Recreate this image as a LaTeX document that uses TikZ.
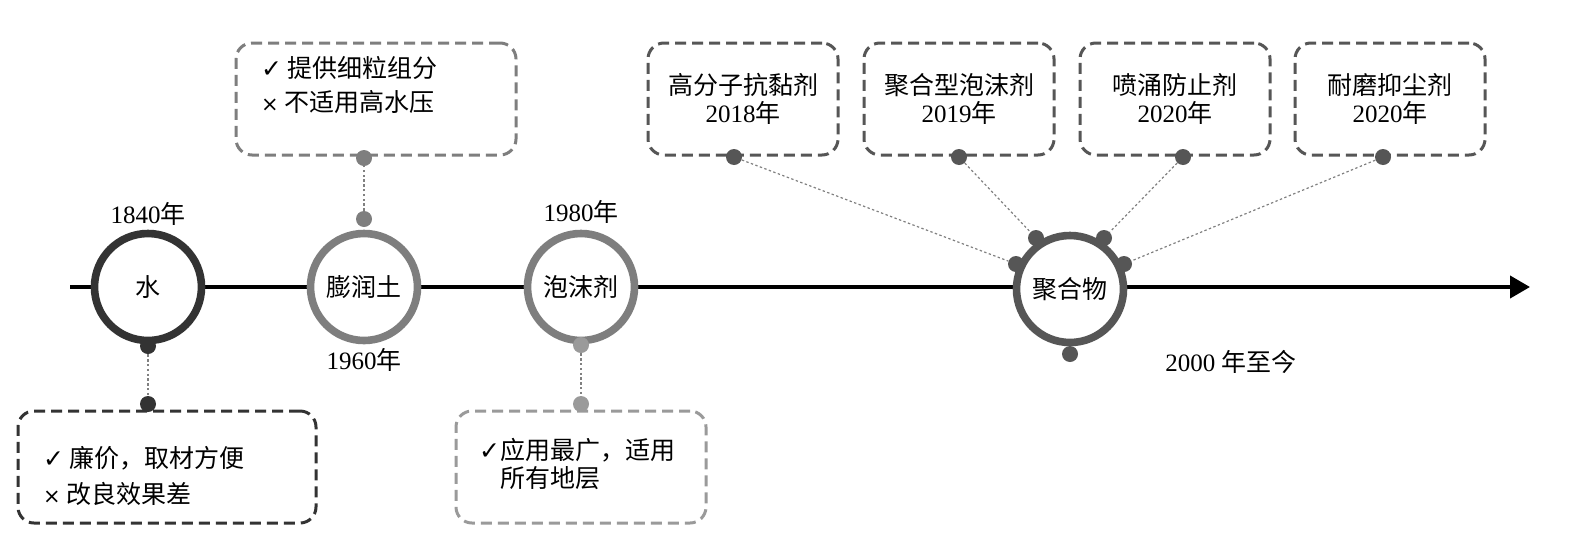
\documentclass[tikz,border=0pt]{standalone}
\usepackage{fontspec}
\setmainfont{Liberation Serif}
\newfontfamily\cjk{Noto Sans CJK SC}
\newfontfamily\sym{DejaVu Sans}
\usetikzlibrary{arrows.meta}

\definecolor{darkring}{HTML}{333333}
\definecolor{midring}{HTML}{565656}
\definecolor{lightring}{HTML}{7E7E7E}
\definecolor{paleline}{HTML}{9A9A9A}

\newcommand{\yr}[1]{\textrm{#1}年}
\newcommand{\okmark}{{\sym\bfseries\fontsize{12.5}{14}\selectfont ✓}}
\newcommand{\badmark}{{\sym\fontsize{10.5}{14}\selectfont ×}}

\tikzset{
	ring/.style = {circle, draw = #1, line width = 3.8pt, fill = white, minimum size = 53.5pt, inner sep = 0pt},
	knob/.style = {circle, fill = #1, minimum size = 8pt, inner sep = 0pt},
	note/.style = {draw = #1, line width = 1.5pt, dash pattern = on 5.5pt off 3pt, rounded corners = 8pt, inner sep = 0pt},
	link/.style = {draw = gray, line width = 0.6pt, dash pattern = on 1.2pt off 1.2pt}
}

\begin{document}
\begin{tikzpicture}[x = 0.5pt, y = -0.5pt, font = \cjk\fontsize{12.5}{14}\selectfont]

	\useasboundingbox (0, 0) rectangle (1572, 536);

	% Axis

	\coordinate (start) at (70, 287);
	\coordinate (end) at (1530, 287);
	\draw [line width = 2pt, -{Triangle[length = 10pt, width = 11pt]}] (start) -- (end);

	% Water

	\node [ring = darkring] (water) at (148, 287) {水};
	\node (wateryear) at (148, 214) {\yr{1840}};
	\node [note = darkring, minimum width = 149pt, minimum height = 56pt] (waterbox) at (167, 467) {};
	\node [anchor = west, align = left] (watertext) at (36, 476) {\okmark\ 廉价，取材方便\\[4pt]\badmark\ 改良效果差};
	\node [knob = darkring] (waterknob) at (148, 346) {};
	\node [knob = darkring] (waterpin) at (148, 404) {};
	\draw [link] (waterknob) -- (waterpin);

	% Bentonite

	\node [ring = lightring] (clay) at (364, 287) {膨润土};
	\node (clayyear) at (364, 360) {\yr{1960}};
	\node [note = lightring, minimum width = 140pt, minimum height = 56pt] (claybox) at (376, 99) {};
	\node [anchor = west, align = left] (claytext) at (254, 85) {\okmark\ 提供细粒组分\\[3pt]\badmark\ 不适用高水压};
	\node [knob = lightring] (clayknob) at (364, 219) {};
	\node [knob = lightring] (claypin) at (364, 158) {};
	\draw [link] (clayknob) -- (claypin);

	% Foam

	\node [ring = lightring] (foam) at (581, 287) {泡沫剂};
	\node (foamyear) at (581, 212) {\yr{1980}};
	\node [note = paleline, minimum width = 125pt, minimum height = 56pt] (foambox) at (581, 467) {};
	\node [anchor = west, align = left] (foamtext) at (472, 464) {\okmark 应用最广，适用\\\phantom{\okmark}所有地层};
	\node [knob = paleline] (foamknob) at (581, 345) {};
	\node [knob = paleline] (foampin) at (581, 404) {};
	\draw [link] (foamknob) -- (foampin);

	% Polymer

	\node [ring = midring] (polymer) at (1070, 289) {聚合物};
	\node (polymeryear) at (1231, 362) {\textrm{2000 }年至今};
	\node [knob = midring] (polyknobL) at (1016, 264) {};
	\node [knob = midring] (polyknobUL) at (1036, 238) {};
	\node [knob = midring] (polyknobUR) at (1104, 238) {};
	\node [knob = midring] (polyknobR) at (1124, 264) {};
	\node [knob = midring] (polyknobD) at (1070, 354) {};

	% Products

	\foreach \name/\x/\px/\title/\year in {antistick/743/734/高分子抗黏剂/2018, polyfoam/959/959/聚合型泡沫剂/2019, antispray/1175/1183/喷涌防止剂/2020, antidust/1390/1383/耐磨抑尘剂/2020}
	{
		\node [note = midring, minimum width = 95pt, minimum height = 56pt, align = center] (\name box) at (\x, 99) {\title\\\yr{\year}};
		\node [knob = midring] (\name pin) at (\px, 157) {};
	}

	\foreach \a/\b in {antistick/L, polyfoam/UL, antispray/UR, antidust/R}
		\draw [link] (\a pin) -- (polyknob\b);

\end{tikzpicture}
\end{document}
